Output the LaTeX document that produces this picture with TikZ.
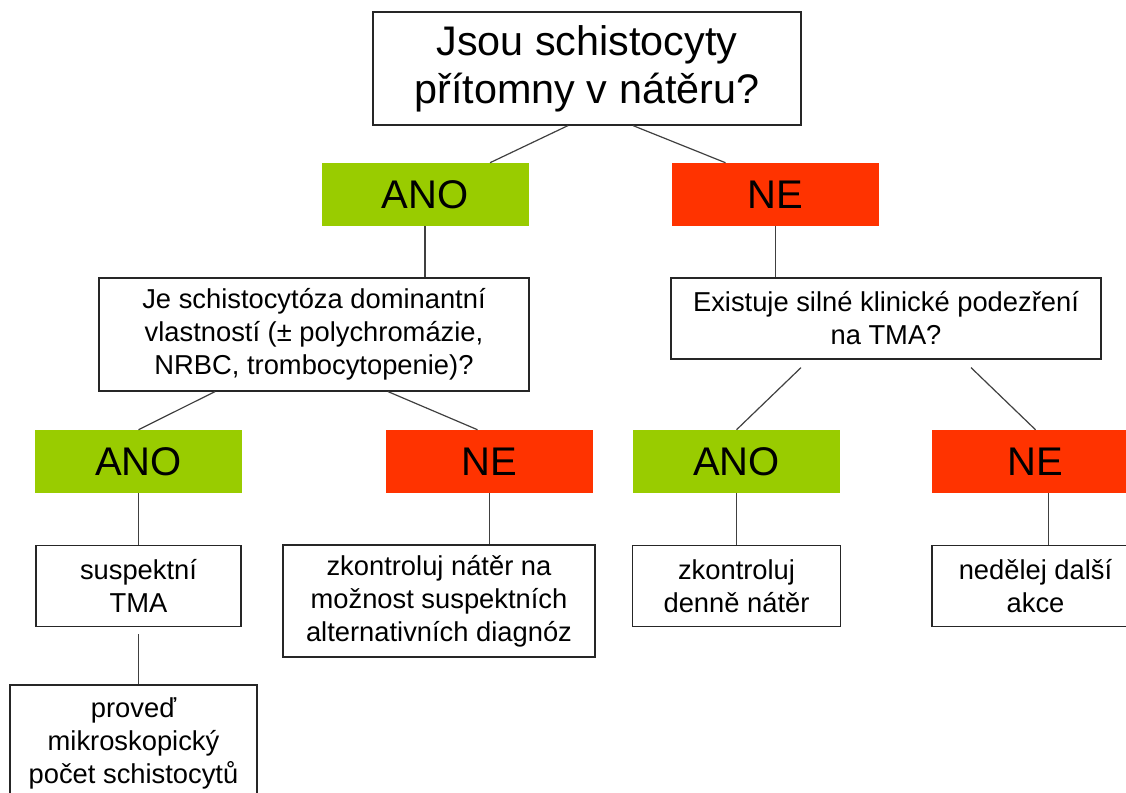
\documentclass[tikz,border=0pt]{standalone}
\usepackage{fontspec}
\setmainfont{Liberation Sans}
\definecolor{anogreen}{RGB}{153, 204, 0}
\definecolor{nered}{RGB}{255, 51, 0}
\definecolor{linegray}{RGB}{64, 64, 64}
\usetikzlibrary{positioning, calc}
\tikzset{
	question/.style={rectangle, draw=black!85, fill=white, line width=0.9pt, align=center, inner sep=0pt, font=\fontsize{20.5}{24.75}\selectfont},
	bigquestion/.style={question, minimum width=321pt, minimum height=84.75pt, font=\fontsize{31}{36}\selectfont},
	answer/.style={question, minimum height=60.75pt},
	yesbox/.style={rectangle, fill=anogreen, minimum width=155.25pt, minimum height=47.25pt, inner sep=0pt, font=\fontsize{30}{36}\selectfont},
	nobox/.style={yesbox, fill=nered},
	link/.style={draw=linegray, line width=0.9pt},
}

\begin{document}
\begin{tikzpicture}[x=0.75pt, y=-0.75pt, node distance=39pt]
	\useasboundingbox (0,0) rectangle (1126,792);
	% questions and first answers
	\node[bigquestion] (q1) at (587,68.5) {Jsou schistocyty\\přítomny v nátěru?};
	\node[yesbox] (ano1) at (425,194.5) {ANO};
	\node[nobox] (ne1) at (775.5,194.5) {NE};
	\node[question, minimum width=322.5pt, minimum height=84.75pt] (q2) at (314,334.5) {Je schistocytóza dominantní\\vlastností (± polychromázie,\\NRBC, trombocytopenie)?};
	\node[question, minimum width=322.5pt, minimum height=60.75pt] (q3) at (886,318.5) {Existuje silné klinické podezření\\na TMA?};
	% second answers
	\node[yesbox] (ano2) at (138.5,461.5) {ANO};
	\node[nobox] (ne2) at (489.5,461.5) {NE};
	\node[yesbox] (ano3) at (736.5,461.5) {ANO};
	\node[nobox] (ne3) at (1035.5,461.5) {NE};
	% actions
	\node[answer, minimum width=153.75pt, below=of ano2] (a1) {suspektní\\TMA};
	\node[answer, minimum width=234pt, minimum height=84pt] (a2) at (439,601) {zkontroluj nátěr na\\možnost suspektních\\alternativních diagnóz};
	\node[answer, minimum width=156pt, below=of ano3] (a3) {zkontroluj\\denně nátěr};
	\node[answer, minimum width=155.25pt, below=of ne3] (a4) {nedělej další\\akce};
	\node[answer, minimum width=185.25pt, minimum height=87pt, below=42.75pt of a1, xshift=-3.75pt] (a5) {proveď\\mikroskopický\\počet schistocytů};
	\draw[link] ($(q1.south)+(-19,0)$) -- ($(ano1.north)+(65,0)$);
	\draw[link] ($(q1.south)+(46,0)$) -- ($(ne1.north)+(-50,0)$);
	\draw[link] (ano1.south) -- (ano1.south |- q2.north);
	\draw[link] (ne1.south) -- (ne1.south |- q3.north);
	\draw[link] ($(q2.south)+(-99,0)$) -- (ano2.north);
	\draw[link] ($(q2.south)+(74,0)$) -- ($(ne2.north)+(-12,0)$);
	\draw[link] ($(q3.south)+(-85,8)$) -- (ano3.north);
	\draw[link] ($(q3.south)+(85,8)$) -- (ne3.north);
	\draw[link] (ano2.south) -- (a1.north);
	\draw[link] (ne2.south) -- (ne2.south |- a2.north);
	\draw[link] (ano3.south) -- (a3.north);
	\draw[link] ($(ne3.south)+(13,0)$) -- ($(a4.north)+(13,0)$);
	\draw[link] ($(a1.south)+(0,7)$) -- (a1.south |- a5.north);
\end{tikzpicture}
\end{document}
